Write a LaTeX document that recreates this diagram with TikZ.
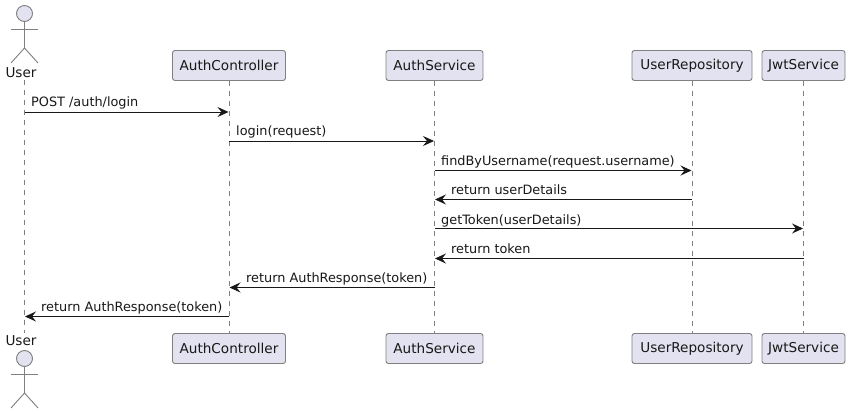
\documentclass[tikz,border=0pt]{standalone}
\usepackage{fontspec}
\setmainfont{DejaVu Sans}
\usetikzlibrary{arrows.meta}
\definecolor{partfill}{HTML}{E2E2F0}
\definecolor{partline}{HTML}{808080}
\definecolor{msgline}{HTML}{181818}
\tikzset{
  part/.style={draw=partline,fill=partfill,rounded corners=2.5pt,line width=0.9pt,minimum height=30pt,inner sep=0pt,font=\fontsize{13.6}{15}\selectfont,text=msgline,anchor=center},
  actorlabel/.style={font=\fontsize{13.6}{15}\selectfont,text=msgline,inner sep=0pt},
  actorline/.style={draw=partline,line width=0.9pt},
  actorhead/.style={circle,draw=partline,fill=partfill,line width=0.9pt,minimum size=16pt,inner sep=0pt},
  lifeline/.style={draw=partline,line width=0.7pt,dash pattern=on 5pt off 5pt},
  msg/.style={draw=msgline,line width=0.8pt,-{Stealth[length=11pt,width=10pt,inset=4pt]},shorten >=0.5pt},
  msglabel/.style={font=\fontsize{12.85}{14}\selectfont,text=msgline,inner sep=0pt,anchor=base west},
}
\begin{document}
\begin{tikzpicture}[x=1pt,y=-1pt]
\useasboundingbox (0,0) rectangle (850,414);
\fill[white] (0,0) rectangle (850,414);
% lifeline ends
\coordinate (utop) at (24.5,80);
\coordinate (ubot) at (24.5,333);
% participants
\node[part,minimum width=113pt] (ac) at (229,65.5) {AuthController};
\node[part,minimum width=97pt] (as) at (434.5,65.5) {AuthService};
\node[part,minimum width=120pt] (ur) at (692,65.5) {UserRepository};
\node[part,minimum width=83pt] (js) at (803.5,65.5) {JwtService};
\node[part,minimum width=113pt] (acb) at (229,348.5) {AuthController};
\node[part,minimum width=97pt] (asb) at (434.5,348.5) {AuthService};
\node[part,minimum width=120pt] (urb) at (692,348.5) {UserRepository};
\node[part,minimum width=83pt] (jsb) at (803.5,348.5) {JwtService};
% lifelines
\draw[lifeline] (utop) -- (ubot);
\draw[lifeline] (ac.south) -- (acb.north);
\draw[lifeline] (as.south) -- (asb.north);
\draw[lifeline] (ur.south) -- (urb.north);
\draw[lifeline] (js.south) -- (jsb.north);
% top actor
\node[actorhead] (uh) at (24.5,13.5) {};
\coordinate (ub) at (24.5,48);
\coordinate (ula) at (11,29);
\coordinate (ura) at (38,29);
\coordinate (ull) at (11,63);
\coordinate (url) at (38,63);
\draw[actorline] (uh.south) -- (ub);
\draw[actorline] (ula) -- (ura);
\draw[actorline] (ull) -- (ub) -- (url);
\node[actorlabel] (ut) at (21,72.5) {User};
% bottom actor
\node[actorlabel] (ubt) at (21,341) {User};
\node[actorhead] (uhb) at (24.5,358.5) {};
\coordinate (ubb) at (24.5,393);
\coordinate (ulab) at (11,374);
\coordinate (urab) at (38,374);
\coordinate (ullb) at (11,408);
\coordinate (urlb) at (38,408);
\draw[actorline] (uhb.south) -- (ubb);
\draw[actorline] (ulab) -- (urab);
\draw[actorline] (ullb) -- (ubb) -- (urlb);
% messages
\draw[msg] (utop |- 0,112) -- (ac.south |- 0,112);
\draw[msg] (ac.south |- 0,141) -- (as.south |- 0,141);
\draw[msg] (as.south |- 0,170.5) -- (ur.south |- 0,170.5);
\draw[msg] (ur.south |- 0,199.5) -- (as.south |- 0,199.5);
\draw[msg] (as.south |- 0,228.5) -- (js.south |- 0,228.5);
\draw[msg] (js.south |- 0,258.5) -- (as.south |- 0,258.5);
\draw[msg] (as.south |- 0,287.5) -- (ac.south |- 0,287.5);
\draw[msg] (ac.south |- 0,316.5) -- (utop |- 0,316.5);
% labels
\node[msglabel] (m1) at (31,107) {POST /auth/login};
\node[msglabel] (m2) at (236,136) {login(request)};
\node[msglabel] (m3) at (441,165) {findByUsername(request.username)};
\node[msglabel] (m4) at (451,194) {return userDetails};
\node[msglabel] (m5) at (441,224) {getToken(userDetails)};
\node[msglabel] (m6) at (451,253) {return token};
\node[msglabel] (m7) at (246,282.5) {return AuthResponse(token)};
\node[msglabel] (m8) at (41,311) {return AuthResponse(token)};
\end{tikzpicture}
\end{document}
